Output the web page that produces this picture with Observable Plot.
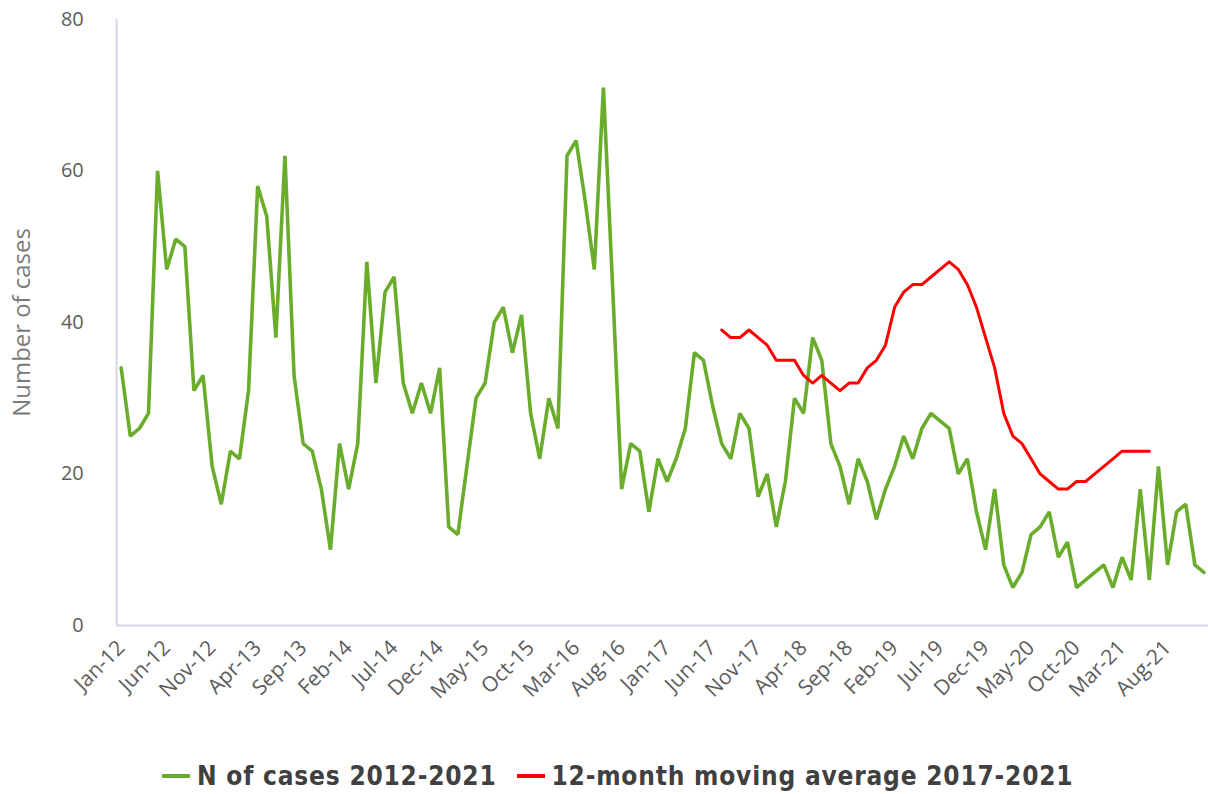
<!DOCTYPE html>
<html><head><meta charset="utf-8">
<script src="https://cdn.jsdelivr.net/npm/d3@7"></script>
<script src="https://cdn.jsdelivr.net/npm/@observablehq/plot@0.6"></script>
<style>
html,body{margin:0;padding:0;background:#fff;overflow:hidden;width:1208px;height:794px;}
#chart{position:absolute;left:0;top:0;}
#chart svg{display:block;}
.legend{position:absolute;left:162px;top:761px;display:flex;align-items:center;font-family:"DejaVu Sans Condensed","DejaVu Sans",sans-serif;font-weight:bold;font-size:26px;letter-spacing:0.8px;color:#404040;white-space:nowrap;}
.legend .item{display:flex;align-items:center;margin-right:20px;}
.legend .sw{display:inline-block;width:28px;height:4px;margin-right:7px;}
</style></head><body>
<div id="chart"></div>
<div class="legend" id="legend"></div>
<script>
// Monthly categories Jan-12 .. Dec-21
const months = [
"Jan-12","Feb-12","Mar-12","Apr-12","May-12","Jun-12","Jul-12","Aug-12","Sep-12","Oct-12","Nov-12","Dec-12",
"Jan-13","Feb-13","Mar-13","Apr-13","May-13","Jun-13","Jul-13","Aug-13","Sep-13","Oct-13","Nov-13","Dec-13",
"Jan-14","Feb-14","Mar-14","Apr-14","May-14","Jun-14","Jul-14","Aug-14","Sep-14","Oct-14","Nov-14","Dec-14",
"Jan-15","Feb-15","Mar-15","Apr-15","May-15","Jun-15","Jul-15","Aug-15","Sep-15","Oct-15","Nov-15","Dec-15",
"Jan-16","Feb-16","Mar-16","Apr-16","May-16","Jun-16","Jul-16","Aug-16","Sep-16","Oct-16","Nov-16","Dec-16",
"Jan-17","Feb-17","Mar-17","Apr-17","May-17","Jun-17","Jul-17","Aug-17","Sep-17","Oct-17","Nov-17","Dec-17",
"Jan-18","Feb-18","Mar-18","Apr-18","May-18","Jun-18","Jul-18","Aug-18","Sep-18","Oct-18","Nov-18","Dec-18",
"Jan-19","Feb-19","Mar-19","Apr-19","May-19","Jun-19","Jul-19","Aug-19","Sep-19","Oct-19","Nov-19","Dec-19",
"Jan-20","Feb-20","Mar-20","Apr-20","May-20","Jun-20","Jul-20","Aug-20","Sep-20","Oct-20","Nov-20","Dec-20",
"Jan-21","Feb-21","Mar-21","Apr-21","May-21","Jun-21","Jul-21","Aug-21","Sep-21","Oct-21","Nov-21","Dec-21"
];

// N of cases 2012-2021 (one value per month)
const cases = [
34,25,26,28,60,47,51,50,31,33,21,16,
23,22,31,58,54,38,62,33,24,23,18,10,
24,18,24,48,32,44,46,32,28,32,28,34,
13,12,21,30,32,40,42,36,41,28,22,30,
26,62,64,56,47,71,45,18,24,23,15,22,
19,22,26,36,35,29,24,22,28,26,17,20,
13,19,30,28,38,35,24,21,16,22,19,14,
18,21,25,22,26,28,27,26,20,22,15,10,
18,8,5,7,12,13,15,9,11,5,6,7,
8,5,9,6,18,6,21,8,15,16,8,7
];

// 12-month moving average 2017-2021, starting Jul-17
const movingAvgStart = "Jul-17";
const movingAvg = [
39,38,38,39,38,37,35,35,35,33,32,33,
32,31,32,32,34,35,37,42,44,45,45,46,
47,48,47,45,42,38,34,28,25,24,22,20,
19,18,18,19,19,20,21,22,23,23,23,23
];

const yTicks = [0,20,40,60,80];
const xTickLabels = ["Jan-12","Jun-12","Nov-12","Apr-13","Sep-13","Feb-14","Jul-14","Dec-14","May-15","Oct-15","Mar-16","Aug-16","Jan-17","Jun-17","Nov-17","Apr-18","Sep-18","Feb-19","Jul-19","Dec-19","May-20","Oct-20","Mar-21","Aug-21"];

const seriesNames = ["N of cases 2012-2021","12-month moving average 2017-2021"];
const seriesColors = ["#6aad2c","#ff0000"];

const casesData = months.map((m,i)=>({month:m, value:cases[i]}));
const s0 = months.indexOf(movingAvgStart);
const maData = movingAvg.map((v,i)=>({month:months[s0+i], value:v}));

const W = 1212, marginLeft = 116.5, marginRight = 0;
const bw = (W - marginLeft - marginRight) / months.length;

const chart = Plot.plot({
  width: W, height: 750,
  marginLeft, marginRight, marginTop: 19, marginBottom: 123,
  style: {fontFamily: "'Open Sans', sans-serif", fontSize: "17px", color: "#5c5c5c", background: "#fff", overflow: "visible"},
  x: {type: "band", domain: months, padding: 0, round: false},
  y: {domain: [0,80]},
  marks: [
    Plot.ruleY([0], {stroke: "#d5d7e6", strokeWidth: 2}),
    Plot.ruleX([months[0]], {y1: 0, y2: 80, dx: -bw/2, stroke: "#d5d7e6", strokeWidth: 2}),
    Plot.axisY({ticks: yTicks, tickSize: 0, tickPadding: 33, fontSize: 20, label: null}),
    Plot.axisX({ticks: xTickLabels, tickSize: 0, tickRotate: -45, tickPadding: 19, fontSize: 21, label: null}),
    Plot.text(["Number of cases"], {frameAnchor: "left", textAnchor: "middle", rotate: -90, dx: -95, fontSize: 24, fill: "#7a7a7a"}),
    Plot.lineY(casesData, {x: "month", y: "value", stroke: seriesColors[0], strokeWidth: 3.6, strokeLinejoin: "miter"}),
    Plot.lineY(maData, {x: "month", y: "value", stroke: seriesColors[1], strokeWidth: 3, strokeLinejoin: "round"})
  ]
});
document.getElementById("chart").appendChild(chart);

const legend = document.getElementById("legend");
seriesNames.forEach((name,i)=>{
  const it = document.createElement("div");
  it.className = "item";
  const sw = document.createElement("span");
  sw.className = "sw";
  sw.style.background = seriesColors[i];
  const tx = document.createElement("span");
  tx.textContent = name;
  it.appendChild(sw); it.appendChild(tx);
  legend.appendChild(it);
});
</script>
</body></html>
